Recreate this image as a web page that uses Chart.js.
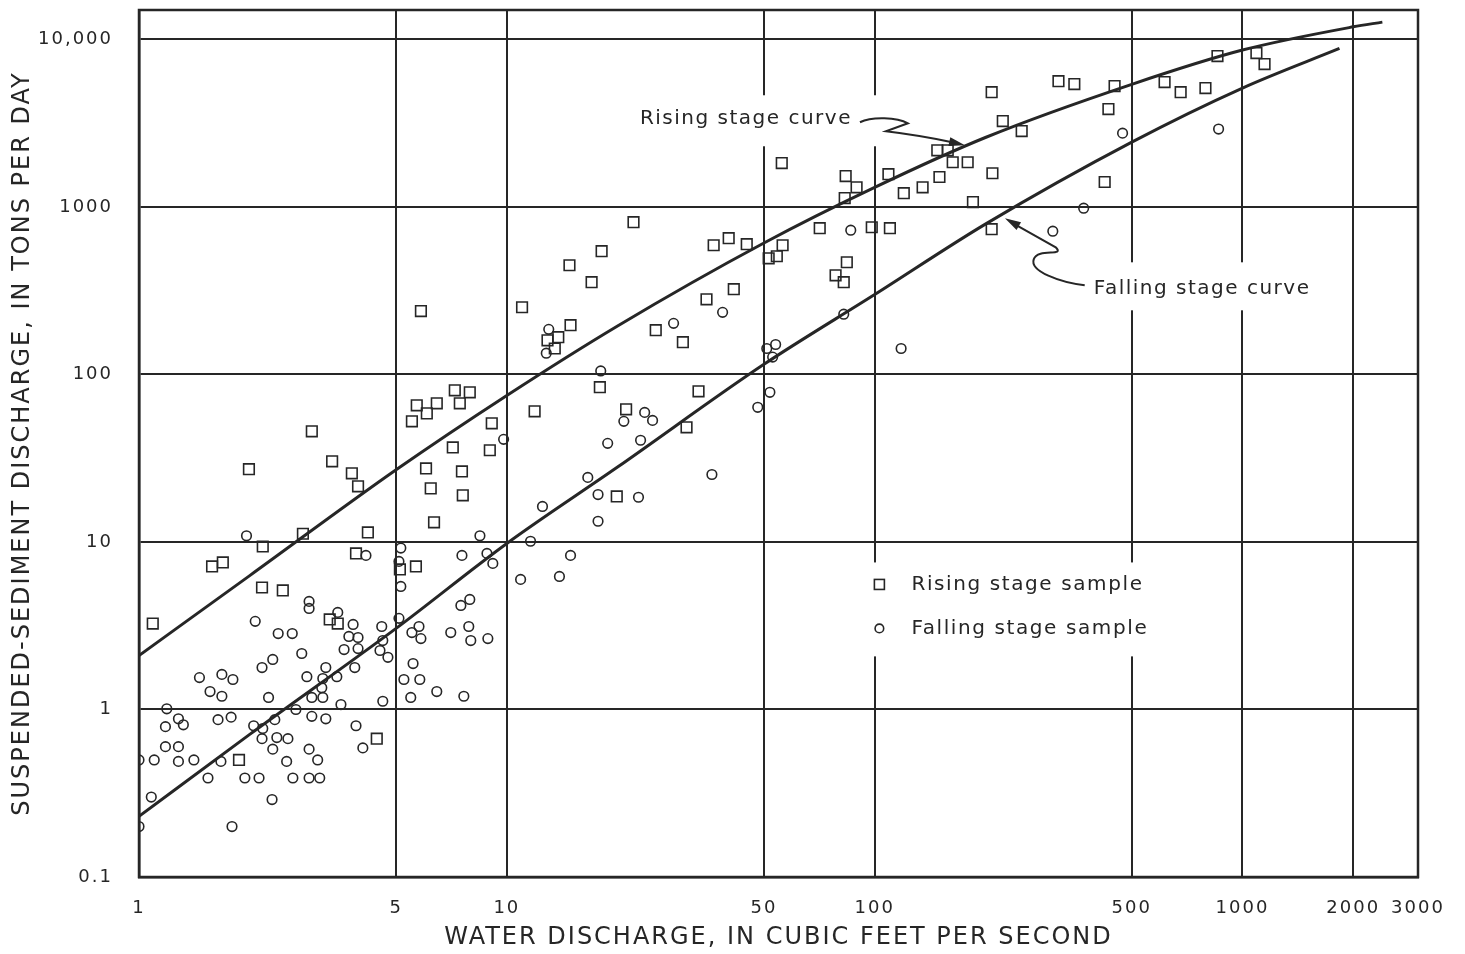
<!DOCTYPE html>
<html>
<head>
<meta charset="utf-8">
<style>
  html, body { margin: 0; padding: 0; background: #fff; }
  #wrap { width: 1465px; height: 954px; }
</style>
</head>
<body>
<div id="wrap"><canvas id="chart"></canvas></div>
<script src="https://cdn.jsdelivr.net/npm/chart.js"></script>
<script>
// rising stage samples (squares): water discharge (cfs), sediment discharge (tons/day)
const risingX = [1.09, 1.58, 1.69, 1.99, 2.17, 2.16, 2.46, 2.79, 2.95, 3.35, 3.79, 3.94, 4.19, 3.89, 3.30, 3.47,
  4.43, 1.87, 5.12, 5.66, 5.69, 6.06, 6.45, 5.52, 7.22, 7.93, 7.45, 9.10, 11.9, 7.13, 8.99, 6.03,
  7.55, 6.21, 7.59, 6.34, 5.84, 11.0, 14.8, 17.0, 18.1, 22.1, 14.9, 13.8, 12.9, 13.5, 25.4, 30.1,
  17.9, 21.1, 33.2, 30.8, 19.9, 34.9, 41.4, 36.5, 40.1, 44.9, 56.2, 51.5, 54.2, 55.9, 70.9, 84.0,
  78.3, 82.4, 83.4, 89.3, 82.9, 98.2, 110, 109, 120, 135, 150, 148, 158, 163, 179, 185,
  209, 208, 208, 223, 251, 316, 349, 449, 432, 422, 614, 679, 793, 855, 1091, 1148];
const risingY = [3.26, 7.15, 7.55, 27.2, 9.4, 5.35, 5.14, 11.2, 45.8, 30.3, 25.7, 21.5, 11.4, 8.55, 3.45, 3.26,
  0.67, 0.50, 6.86, 7.15, 65.5, 58.6, 67.3, 52.5, 80.5, 78.3, 67.3, 51.1, 60.3, 36.7, 35.3, 27.5,
  26.4, 20.9, 19.0, 13.1, 239, 252, 449, 356, 545, 812, 197, 167, 160, 143, 184, 156,
  84, 62, 79.4, 48.4, 18.7, 281, 323, 591, 651, 600, 591, 494, 508, 1830, 747, 468,
  391, 356, 1530, 1310, 1130, 757, 747, 1570, 1210, 1310, 1510, 2180, 2180, 1850, 1850, 1070,
  1590, 737, 4850, 3260, 2840, 5640, 5420, 5270, 3840, 1410, 5570, 4850, 5130, 7960, 8300, 7130];

// falling stage samples (circles)
const fallingX = [1.0, 1.0, 1.08, 1.10, 1.18, 1.28, 1.18, 1.19, 1.28, 1.32, 1.28, 1.41, 1.46, 1.56, 1.68, 1.80,
  1.68, 1.64, 1.78, 1.54, 1.67, 1.79, 1.94, 2.12, 2.05, 2.17, 2.16, 2.37, 2.54, 2.31, 2.30, 2.07,
  2.16, 2.31, 2.25, 2.34, 2.39, 2.61, 2.77, 2.67, 2.52, 2.62, 2.90, 3.10, 2.90, 3.06, 2.95, 3.22,
  2.86, 3.16, 3.45, 3.14, 2.95, 3.16, 3.22, 3.86, 3.54, 3.89, 4.06, 4.60, 2.90, 2.90, 3.47, 3.82,
  3.72, 3.94, 3.61, 3.94, 4.57, 4.60, 4.52, 4.75, 5.09, 5.77, 5.52, 5.84, 5.56, 5.25, 5.80, 5.48,
  6.45, 7.64, 7.04, 7.88, 7.98, 8.88, 7.93, 7.50, 5.15, 5.15, 5.09, 4.14, 1.96, 7.55, 8.83, 9.16,
  8.45, 9.8, 11.6, 10.9, 13.9, 14.9, 12.5, 16.6, 17.7, 17.7, 18.8, 23.1, 20.8, 23.7, 24.9, 18.0,
  36.1, 22.8, 13.0, 12.8, 28.4, 38.6, 48.1, 51.9, 50.9, 53.8, 52.8, 82.4, 86.1, 118, 305, 370,
  472, 861];
const fallingY = [0.50, 0.20, 0.30, 0.50, 0.60, 0.60, 0.79, 1.01, 0.88, 0.81, 0.49, 0.50, 1.55, 1.28, 1.62, 1.51,
  1.20, 0.87, 0.90, 0.39, 0.49, 0.20, 0.39, 0.39, 0.80, 0.77, 0.67, 0.68, 0.67, 0.58, 0.29, 3.36,
  1.78, 1.99, 1.18, 0.87, 2.84, 2.84, 2.16, 1.0, 0.49, 0.39, 0.39, 0.39, 0.58, 0.50, 0.91, 0.88,
  1.57, 1.53, 1.57, 1.35, 1.18, 1.18, 1.78, 1.78, 1.07, 0.80, 0.59, 1.12, 4.42, 4.01, 3.80, 3.22,
  2.73, 2.69, 2.28, 2.31, 3.13, 2.58, 2.25, 2.05, 3.50, 3.13, 2.88, 2.65, 1.88, 1.51, 1.51, 1.18,
  1.28, 1.20, 2.88, 3.13, 2.58, 2.65, 4.54, 4.18, 5.43, 9.2, 7.66, 8.32, 10.9, 8.32, 8.55, 7.45,
  10.9, 41.0, 10.1, 5.98, 6.23, 8.32, 16.3, 24.3, 19.2, 13.3, 38.8, 40.5, 52.5, 59.4, 53.2, 105,
  25.3, 18.5, 186, 134, 202, 235, 63.7, 78.3, 143, 151, 127, 229, 727, 143, 717, 984,
  2760, 2920];

// fitted curves
const riseCurveX = [1, 2, 5, 10, 20, 50, 100, 200, 500, 1000, 2000, 2400];
const riseCurveY = [2.1, 6.3, 27, 75, 195, 610, 1310, 2600, 5400, 8650, 11900, 12700];
const fallCurveX = [1, 2, 5, 10, 20, 50, 100, 200, 500, 1000, 1835];
const fallCurveY = [0.23, 0.71, 3.05, 9.8, 28, 115, 300, 790, 2440, 5130, 8840];

const xTickValues = [1, 5, 10, 50, 100, 500, 1000, 2000, 3000];
const xTickLabels = ['1', '5', '10', '50', '100', '500', '1000', '2000', '3000'];
const yTickValues = [0.1, 1, 10, 100, 1000, 10000];
const yTickLabels = ['0.1', '1', '10', '100', '1000', '10,000'];

const ink = '#262626';
const family = '"DejaVu Sans", sans-serif';
const pts = (xs, ys) => xs.map((x, i) => ({ x: x, y: ys[i] }));

// annotation anchors, in data units
const riseNoteAt = [23, 3340];
const riseTipAt = [176, 2340];
const fallNoteAt = [394, 327];
const fallTipAt = [226, 857];
const keyAt = [[103, 5.58], [103, 3.05]];

function arrowHead(ctx, fx, fy, tx, ty) {
  const a = Math.atan2(ty - fy, tx - fx);
  const len = 16, half = 4.5;
  ctx.beginPath();
  ctx.moveTo(tx, ty);
  ctx.lineTo(tx - len * Math.cos(a) + half * Math.sin(a), ty - len * Math.sin(a) - half * Math.cos(a));
  ctx.lineTo(tx - len * Math.cos(a) - half * Math.sin(a), ty - len * Math.sin(a) + half * Math.cos(a));
  ctx.closePath();
  ctx.fill();
}

const paper = {
  id: 'paper',
  beforeDraw(chart) {
    const ctx = chart.ctx;
    ctx.save();
    ctx.fillStyle = '#fff';
    ctx.fillRect(0, 0, chart.width, chart.height);
    ctx.restore();
    ctx.letterSpacing = '2px';
  },
  beforeDatasetsDraw(chart) {
    const { ctx, chartArea: a, scales: { x, y } } = chart;
    const at = (p) => [x.getPixelForValue(p[0]), y.getPixelForValue(p[1])];
    ctx.save();
    ctx.strokeStyle = ink;
    ctx.fillStyle = ink;
    ctx.lineWidth = 2.5;
    ctx.strokeRect(a.left, a.top, a.right - a.left, a.bottom - a.top);

    const [rx, ry] = at(riseNoteAt);
    const [fx, fy] = at(fallNoteAt);
    const [kx, ky1] = at(keyAt[0]);
    const [, ky2] = at(keyAt[1]);

    // white boxes behind the notes break the grid lines
    ctx.fillStyle = '#fff';
    ctx.fillRect(rx - 20, ry - 24, 300, 51);
    ctx.fillRect(fx - 20, fy - 26, 248, 48);
    ctx.fillRect(kx - 20, ky1 - 22, 300, ky2 - ky1 + 50);

    ctx.fillStyle = ink;
    ctx.font = '20px ' + family;
    ctx.letterSpacing = '1.5px';
    ctx.textBaseline = 'middle';
    ctx.textAlign = 'left';
    ctx.fillText('Rising stage curve', rx, ry);
    ctx.fillText('Falling stage curve', fx, fy);
    ctx.letterSpacing = '1.6px';
    ctx.fillText('Rising stage sample', kx + 32, ky1);
    ctx.fillText('Falling stage sample', kx + 32, ky2);

    // key markers
    ctx.lineWidth = 1.6;
    ctx.strokeRect(kx - 5, ky1 - 5, 10, 10);
    ctx.beginPath();
    ctx.arc(kx, ky2, 4.3, 0, Math.PI * 2);
    ctx.stroke();

    // rising note arrow
    ctx.lineWidth = 2;
    ctx.letterSpacing = '1.5px';
    const w = ctx.measureText('Rising stage curve').width;
    const sx = rx + w + 8, sy = ry + 3;
    const [tx, ty] = at(riseTipAt);
    ctx.beginPath();
    ctx.moveTo(sx, sy);
    ctx.bezierCurveTo(sx + 12, sy - 6, sx + 37, sy - 5, sx + 48, sy + 1);
    ctx.lineTo(sx + 26, sy + 9);
    ctx.quadraticCurveTo(sx + 60, sy + 13, tx - 8, ty - 2);
    ctx.stroke();
    arrowHead(ctx, sx + 60, sy + 13, tx, ty);

    // falling note arrow
    const gx = fx - 9, gy = fy - 3;
    const [ux, uy] = at(fallTipAt);
    ctx.beginPath();
    ctx.moveTo(gx, gy);
    ctx.bezierCurveTo(gx - 25, gy - 3, gx - 55, gy - 14, gx - 51, gy - 26);
    ctx.bezierCurveTo(gx - 47, gy - 38, gx - 19, gy - 28, gx - 29, gy - 38);
    ctx.lineTo(ux + 6, uy + 4);
    ctx.stroke();
    arrowHead(ctx, gx - 29, gy - 38, ux, uy);
    ctx.restore();
    ctx.letterSpacing = '2px';
  }
};

new Chart(document.getElementById('chart').getContext('2d'), {
  data: {
    datasets: [
      {
        type: 'line', label: 'Rising stage curve', data: pts(riseCurveX, riseCurveY),
        borderColor: ink, borderWidth: 3, pointRadius: 0, fill: false, cubicInterpolationMode: 'monotone'
      },
      {
        type: 'line', label: 'Falling stage curve', data: pts(fallCurveX, fallCurveY),
        borderColor: ink, borderWidth: 3, pointRadius: 0, fill: false, cubicInterpolationMode: 'monotone'
      },
      {
        type: 'scatter', label: 'Rising stage sample', data: pts(risingX, risingY),
        pointStyle: 'rect', pointRadius: 7.5, borderWidth: 1.6, borderColor: ink, backgroundColor: 'rgba(255,255,255,0)'
      },
      {
        type: 'scatter', label: 'Falling stage sample', data: pts(fallingX, fallingY),
        pointStyle: 'circle', pointRadius: 4.8, borderWidth: 1.6, borderColor: ink, backgroundColor: 'rgba(255,255,255,0)'
      }
    ]
  },
  options: {
    responsive: true,
    maintainAspectRatio: false,
    animation: false,
    events: [],
    layout: { padding: { top: 10, right: 47, bottom: 0, left: 0 } },
    plugins: { legend: { display: false }, tooltip: { enabled: false } },
    scales: {
      x: {
        type: 'logarithmic', min: 1, max: 3000,
        afterBuildTicks: s => { s.ticks = xTickValues.map(v => ({ value: v })); },
        afterFit: s => { s.height = 77; s.paddingLeft = 0; s.paddingRight = 0; },
        grid: { color: ink, lineWidth: 2, drawTicks: false },
        border: { color: ink, width: 2.5 },
        ticks: {
          autoSkip: false, maxRotation: 0, padding: 21, color: ink,
          font: { family: family, size: 18 },
          callback: (v, i) => xTickLabels[i]
        },
        title: {
          display: true, text: 'WATER DISCHARGE, IN CUBIC FEET PER SECOND', color: ink,
          font: { family: family, size: 24 }, padding: { top: 0, bottom: 2 }
        }
      },
      y: {
        type: 'logarithmic', min: 0.1, max: 15000,
        afterBuildTicks: s => { s.ticks = yTickValues.map(v => ({ value: v })); },
        afterFit: s => { s.width = 139; s.paddingTop = 0; s.paddingBottom = 0; },
        grid: { color: ink, lineWidth: 2, drawTicks: false },
        border: { color: ink, width: 2.5 },
        ticks: {
          autoSkip: false, padding: 26, color: ink,
          font: { family: family, size: 18 },
          callback: (v, i) => yTickLabels[i]
        },
        title: {
          display: true, text: 'SUSPENDED-SEDIMENT DISCHARGE, IN TONS PER DAY', color: ink,
          font: { family: family, size: 24 }, padding: { top: 8, bottom: 0 }
        }
      }
    }
  },
  plugins: [paper]
});
</script>
</body>
</html>
